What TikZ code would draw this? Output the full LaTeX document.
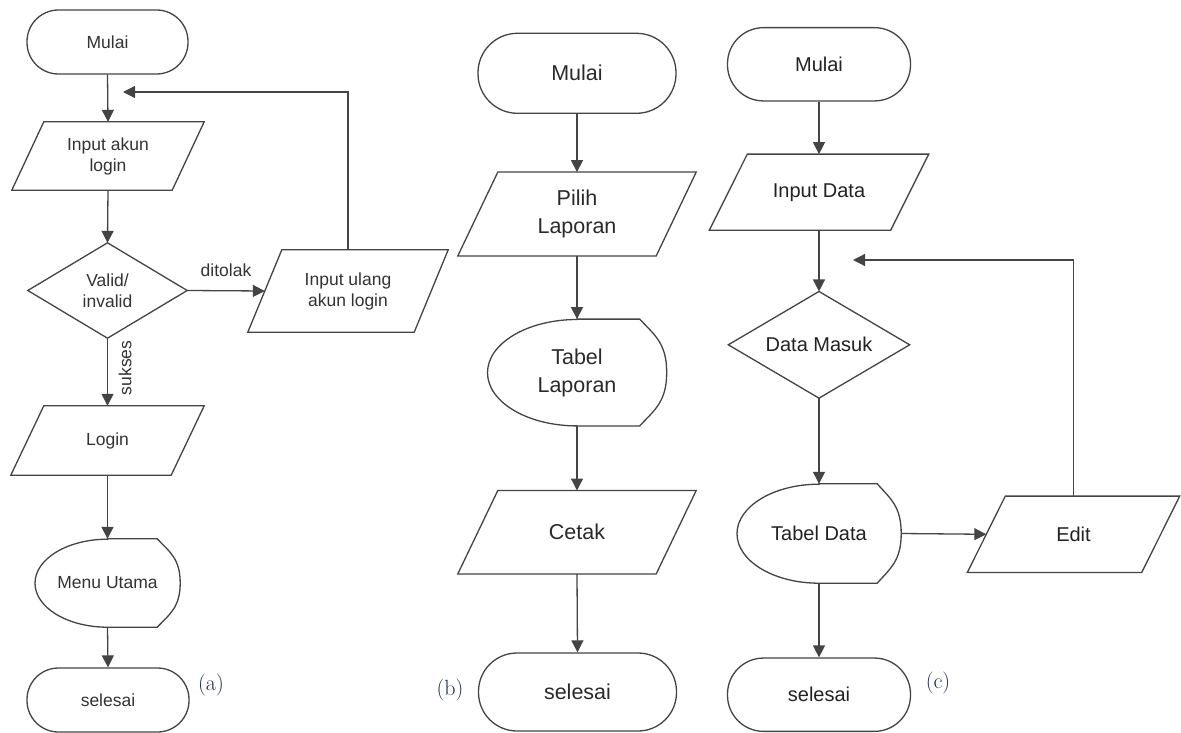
\documentclass[tikz,border=0pt]{standalone}
\usepackage{fontspec}
\setsansfont{Liberation Sans}
\usetikzlibrary{arrows.meta,calc}
\definecolor{lc}{HTML}{444444}
\definecolor{tca}{HTML}{333333}
\definecolor{tcb}{HTML}{2A2A2A}
\definecolor{tcc}{HTML}{222222}
\definecolor{lab}{HTML}{1C2C50}
\newcommand\paraout[2]{\draw[shp] ([xshift=#2pt]#1.north west) -- (#1.north east) -- ([xshift=-#2pt]#1.south east) -- (#1.south west) -- cycle;}
\newcommand\diaout[1]{\draw[shp] (#1.north) -- (#1.east) -- (#1.south) -- (#1.west) -- cycle;}
% node, d, rx, ry
\newcommand\dispout[4]{\draw[shp] (#1.north) -- ([xshift=-#2pt]#1.north east)
   .. controls ([xshift=-0.45*#2pt,yshift=-0.3*#4pt]#1.north east) and ([yshift=0.55*#4pt]#1.east) .. (#1.east)
   .. controls ([yshift=-0.55*#4pt]#1.east) and ([xshift=-0.45*#2pt,yshift=0.3*#4pt]#1.south east) .. ([xshift=-#2pt]#1.south east)
   -- (#1.south) arc[start angle=270,end angle=90,x radius=#3pt,y radius=#4pt] -- cycle;}
\begin{document}
\begin{tikzpicture}[x=1pt,y=-1pt,
  shp/.style={draw=lc,line width=1.3pt},
  base/.style={shape=rectangle,inner sep=0pt,align=center},
  fa/.style={text=tca,font=\sffamily\fontsize{17.5}{21}\selectfont},
  fb/.style={text=tcb,font=\sffamily\fontsize{21.5}{28}\selectfont},
  fc/.style={text=tcc,font=\sffamily\fontsize{20}{24}\selectfont},
  term/.style={base,draw=lc,line width=1.3pt},
  arr/.style={draw=lc,line width=1.3pt,-{Triangle[length=12pt,width=12pt]}},
  lbl/.style={text=lab,font=\rmfamily\fontsize{22}{24}\selectfont},
  edgelbl/.style={inner sep=0pt,text=tca,font=\sffamily\fontsize{17.5}{20}\selectfont}]
\useasboundingbox (0,0) rectangle (1181,733);
\fill[white] (0,0) rectangle (1181,733);

% ---------- (a) ----------
\node[term,fa,minimum width=161pt,minimum height=64pt,rounded corners=31.5pt] (ma) at (107.5,42) {Mulai};
\node[base,fa,minimum width=192pt,minimum height=68pt] (ia) at (108,156) {Input akun\\login};
\paraout{ia}{32}
\node[base,fa,minimum width=159pt,minimum height=95pt] (va) at (107.5,290.5) {Valid/\\invalid};
\diaout{va}
\node[base,fa,minimum width=200pt,minimum height=82pt] (iu) at (348,291) {Input ulang\\akun login};
\paraout{iu}{34}
\node[base,fa,minimum width=193pt,minimum height=69pt] (la) at (107.5,440.5) {Login};
\paraout{la}{33}
\node[base,fa,minimum width=145pt,minimum height=88pt] (mu) at (107.5,583) {Menu Utama};
\dispout{mu}{23}{72.5}{44}
\node[term,fa,minimum width=162pt,minimum height=64pt,rounded corners=31.5pt] (sa) at (108,700) {selesai};
\coordinate (loopA) at (123,92);

\draw[arr] (ma.south) -- (ia.north);
\draw[arr] (ia.south) -- (va.north);
\draw[arr] (va.east) -- node[edgelbl,above=13pt] (dt) {ditolak} ([xshift=17pt]iu.west);
\draw[arr] (iu.north) |- (loopA);
\draw[arr] (va.south) -- node[edgelbl,pos=0.44,xshift=17.5pt,rotate=90] (sk) {sukses} (la.north);
\draw[arr] (la.south) -- (mu.north);
\draw[arr] (mu.south) -- (sa.north);
\node[lbl] (la-lbl) at (211,685) {(a)};

% ---------- (b) ----------
\node[term,fb,minimum width=198pt,minimum height=80pt,rounded corners=39.5pt] (mb) at (577,73.3) {Mulai};
\node[base,fb,minimum width=238pt,minimum height=83.4pt] (pb) at (577,214) {Pilih\\Laporan};
\paraout{pb}{40}
\node[base,fb,minimum width=179pt,minimum height=106.4pt] (tb) at (577,372.5) {Tabel\\Laporan};
\dispout{tb}{27}{89.5}{53.2}
\node[base,fb,minimum width=238pt,minimum height=83pt] (cb) at (577,532.2) {Cetak};
\paraout{cb}{40}
\node[term,fb,minimum width=198pt,minimum height=78pt,rounded corners=38.5pt] (sb) at (577.5,692) {selesai};

\draw[arr] (mb.south) -- (pb.north);
\draw[arr] (pb.south) -- (tb.north);
\draw[arr] (tb.south) -- (cb.north);
\draw[arr] (cb.south) -- (sb.north);
\node[lbl] (lb-lbl) at (450,690) {(b)};

% ---------- (c) ----------
\node[term,fc,minimum width=183pt,minimum height=73.3pt,rounded corners=36pt] (mc) at (819,64.3) {Mulai};
\node[base,fc,minimum width=219pt,minimum height=75.7pt] (ic) at (819,192.2) {Input Data};
\paraout{ic}{38}
\node[base,fc,minimum width=181pt,minimum height=106.3pt] (dc) at (819,344.8) {Data Masuk};
\diaout{dc}
\node[base,fc,minimum width=164pt,minimum height=99pt] (tcn) at (819,533.5) {Tabel Data};
\dispout{tcn}{24}{82}{49.5}
\node[base,fc,minimum width=212pt,minimum height=76pt] (ec) at (1073.5,534.3) {Edit};
\paraout{ec}{38}
\node[term,fc,minimum width=183pt,minimum height=73.3pt,rounded corners=36pt] (sc) at (819,694.7) {selesai};
\coordinate (loopC) at (853,260);

\draw[arr] (mc.south) -- (ic.north);
\draw[arr] (ic.south) -- (dc.north);
\draw[arr] (dc.south) -- (tcn.north);
\draw[arr] (tcn.east) -- ([xshift=19pt]ec.west);
\draw[arr] (ec.north) |- (loopC);
\draw[arr] (tcn.south) -- (sc.north);
\node[lbl] (lc-lbl) at (938,683) {(c)};
\end{tikzpicture}
\end{document}
